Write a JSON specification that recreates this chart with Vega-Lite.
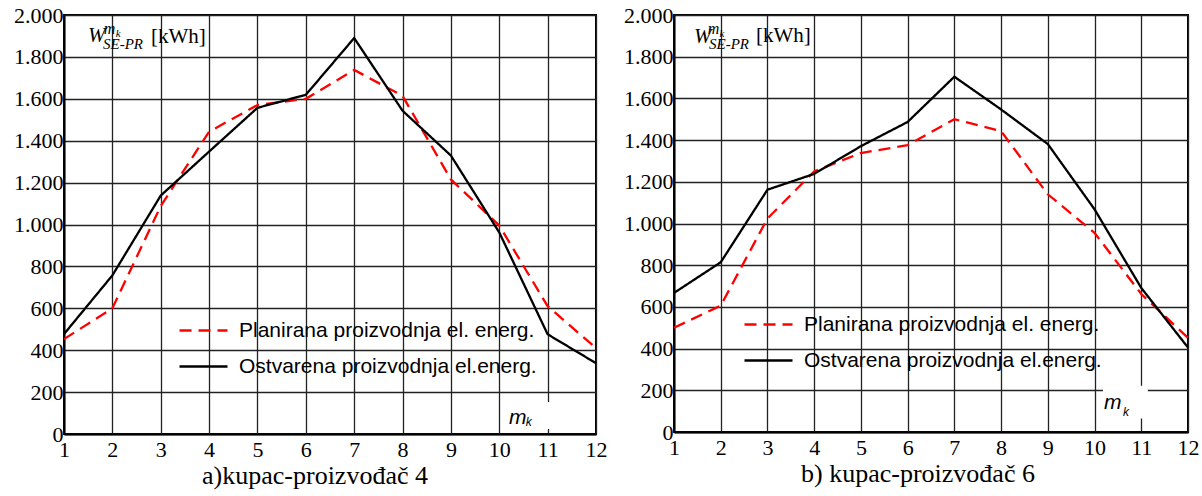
{
  "$schema": "https://vega.github.io/schema/vega-lite/v6.json",
  "padding": {"left": 12, "top": 3, "right": 5, "bottom": 2},
  "bounds": "flush",
  "spacing": 78,
  "config": {
    "locale": {"number": {"decimal": ",", "thousands": ".", "grouping": [3], "currency": ["", ""]}},
    "view": {"stroke": "#000000", "strokeWidth": 2},
    "axis": {"domainColor": "#000000", "domainWidth": 2, "gridColor": "#222222", "gridWidth": 1.3, "gridOpacity": 1, "ticks": false, "labelFont": "Liberation Serif", "labelFontSize": 22, "labelColor": "#000000", "title": null},
    "title": {"font": "Liberation Serif", "fontSize": 26, "fontWeight": "normal", "color": "#000000", "orient": "bottom", "offset": 3, "anchor": "middle"},
    "legend": {"orient": "none", "symbolType": "stroke", "symbolSize": 2304, "symbolStrokeWidth": 2.5, "labelFont": "Liberation Sans", "labelFontSize": 21, "labelColor": "#000000", "labelOffset": 10, "rowPadding": -14, "padding": 0, "labelLimit": 0}
  },
  "datasets": {
    "d": [
      {"panel": "a", "series": "Planirana proizvodnja el. energ.", "m": 1, "v": 453},
      {"panel": "a", "series": "Planirana proizvodnja el. energ.", "m": 2, "v": 600},
      {"panel": "a", "series": "Planirana proizvodnja el. energ.", "m": 3, "v": 1088},
      {"panel": "a", "series": "Planirana proizvodnja el. energ.", "m": 4, "v": 1443},
      {"panel": "a", "series": "Planirana proizvodnja el. energ.", "m": 5, "v": 1570},
      {"panel": "a", "series": "Planirana proizvodnja el. energ.", "m": 6, "v": 1600},
      {"panel": "a", "series": "Planirana proizvodnja el. energ.", "m": 7, "v": 1738},
      {"panel": "a", "series": "Planirana proizvodnja el. energ.", "m": 8, "v": 1614},
      {"panel": "a", "series": "Planirana proizvodnja el. energ.", "m": 9, "v": 1215},
      {"panel": "a", "series": "Planirana proizvodnja el. energ.", "m": 10, "v": 995},
      {"panel": "a", "series": "Planirana proizvodnja el. energ.", "m": 11, "v": 610},
      {"panel": "a", "series": "Planirana proizvodnja el. energ.", "m": 12, "v": 410},
      {"panel": "a", "series": "Ostvarena proizvodnja el.energ.", "m": 1, "v": 477},
      {"panel": "a", "series": "Ostvarena proizvodnja el.energ.", "m": 2, "v": 757},
      {"panel": "a", "series": "Ostvarena proizvodnja el.energ.", "m": 3, "v": 1138},
      {"panel": "a", "series": "Ostvarena proizvodnja el.energ.", "m": 4, "v": 1348},
      {"panel": "a", "series": "Ostvarena proizvodnja el.energ.", "m": 5, "v": 1557},
      {"panel": "a", "series": "Ostvarena proizvodnja el.energ.", "m": 6, "v": 1619},
      {"panel": "a", "series": "Ostvarena proizvodnja el.energ.", "m": 7, "v": 1890},
      {"panel": "a", "series": "Ostvarena proizvodnja el.energ.", "m": 8, "v": 1543},
      {"panel": "a", "series": "Ostvarena proizvodnja el.energ.", "m": 9, "v": 1329},
      {"panel": "a", "series": "Ostvarena proizvodnja el.energ.", "m": 10, "v": 962},
      {"panel": "a", "series": "Ostvarena proizvodnja el.energ.", "m": 11, "v": 476},
      {"panel": "a", "series": "Ostvarena proizvodnja el.energ.", "m": 12, "v": 338},
      {"panel": "b", "series": "Planirana proizvodnja el. energ.", "m": 1, "v": 500},
      {"panel": "b", "series": "Planirana proizvodnja el. energ.", "m": 2, "v": 606},
      {"panel": "b", "series": "Planirana proizvodnja el. energ.", "m": 3, "v": 1024},
      {"panel": "b", "series": "Planirana proizvodnja el. energ.", "m": 4, "v": 1250},
      {"panel": "b", "series": "Planirana proizvodnja el. energ.", "m": 5, "v": 1338},
      {"panel": "b", "series": "Planirana proizvodnja el. energ.", "m": 6, "v": 1376},
      {"panel": "b", "series": "Planirana proizvodnja el. energ.", "m": 7, "v": 1500},
      {"panel": "b", "series": "Planirana proizvodnja el. energ.", "m": 8, "v": 1443},
      {"panel": "b", "series": "Planirana proizvodnja el. energ.", "m": 9, "v": 1140},
      {"panel": "b", "series": "Planirana proizvodnja el. energ.", "m": 10, "v": 955},
      {"panel": "b", "series": "Planirana proizvodnja el. energ.", "m": 11, "v": 662},
      {"panel": "b", "series": "Planirana proizvodnja el. energ.", "m": 12, "v": 451},
      {"panel": "b", "series": "Ostvarena proizvodnja el.energ.", "m": 1, "v": 667},
      {"panel": "b", "series": "Ostvarena proizvodnja el.energ.", "m": 2, "v": 814},
      {"panel": "b", "series": "Ostvarena proizvodnja el.energ.", "m": 3, "v": 1162},
      {"panel": "b", "series": "Ostvarena proizvodnja el.energ.", "m": 4, "v": 1238},
      {"panel": "b", "series": "Ostvarena proizvodnja el.energ.", "m": 5, "v": 1371},
      {"panel": "b", "series": "Ostvarena proizvodnja el.energ.", "m": 6, "v": 1487},
      {"panel": "b", "series": "Ostvarena proizvodnja el.energ.", "m": 7, "v": 1704},
      {"panel": "b", "series": "Ostvarena proizvodnja el.energ.", "m": 8, "v": 1547},
      {"panel": "b", "series": "Ostvarena proizvodnja el.energ.", "m": 9, "v": 1381},
      {"panel": "b", "series": "Ostvarena proizvodnja el.energ.", "m": 10, "v": 1068},
      {"panel": "b", "series": "Ostvarena proizvodnja el.energ.", "m": 11, "v": 691},
      {"panel": "b", "series": "Ostvarena proizvodnja el.energ.", "m": 12, "v": 405}
    ]
  },
  "resolve": {"scale": {"color": "independent", "strokeDash": "independent"}, "legend": {"color": "independent", "strokeDash": "independent"}},
  "hconcat": [
    {
      "width": 532,
      "height": 419,
      "title": {"text": "a)kupac-proizvođač 4", "dx": -15},
      "layer": [
        {
          "data": {"values": [{}]},
          "mark": {"type": "rect", "fill": "#ffffff", "stroke": null},
          "encoding": {"x": {"datum": 10.14, "type": "quantitative"}, "x2": {"datum": 11.07}, "y": {"datum": 24, "type": "quantitative"}, "y2": {"datum": 153}}
        },
        {
          "data": {"name": "d"},
          "transform": [{"filter": "datum.panel === 'a'"}],
          "mark": {"type": "line", "strokeWidth": 2.3},
          "encoding": {
            "x": {"field": "m", "type": "quantitative", "scale": {"domain": [1, 12], "nice": false, "zero": false}, "axis": {"values": [1,2,3,4,5,6,7,8,9,10,11,12], "grid": true, "labelPadding": 5, "labelFlush": false}},
            "y": {"field": "v", "type": "quantitative", "scale": {"domain": [0, 2000], "nice": false}, "axis": {"values": [0,200,400,600,800,1000,1200,1400,1600,1800,2000], "grid": true, "format": ",d", "labelPadding": 1, "labelFlush": false}},
            "color": {"field": "series", "type": "nominal", "title": null, "scale": {"domain": ["Planirana proizvodnja el. energ.", "Ostvarena proizvodnja el.energ."], "range": ["#ff0000", "#000000"]}, "legend": {"legendX": 114, "legendY": 290, "rowPadding": -17}},
            "strokeDash": {"field": "series", "type": "nominal", "title": null, "scale": {"domain": ["Planirana proizvodnja el. energ.", "Ostvarena proizvodnja el.energ."], "range": [[12, 7], [1, 0]]}, "legend": {"legendX": 114, "legendY": 290, "rowPadding": -17}}
          }
        },
        {"data": {"values": [{}]}, "mark": {"type": "text", "font": "Liberation Serif", "fontStyle": "italic", "fontSize": 21, "align": "left", "baseline": "alphabetic", "color": "#000000"}, "encoding": {"x": {"datum": 1.496, "type": "quantitative"}, "y": {"datum": 1871, "type": "quantitative"}, "text": {"value": "W"}}},
        {"data": {"values": [{}]}, "mark": {"type": "text", "font": "Liberation Serif", "fontStyle": "italic", "fontSize": 16, "align": "left", "baseline": "alphabetic", "color": "#000000"}, "encoding": {"x": {"datum": 1.82, "type": "quantitative"}, "y": {"datum": 1909, "type": "quantitative"}, "text": {"value": "m"}}},
        {"data": {"values": [{}]}, "mark": {"type": "text", "font": "Liberation Serif", "fontStyle": "italic", "fontSize": 11, "align": "left", "baseline": "alphabetic", "color": "#000000"}, "encoding": {"x": {"datum": 2.07, "type": "quantitative"}, "y": {"datum": 1895, "type": "quantitative"}, "text": {"value": "k"}}},
        {"data": {"values": [{}]}, "mark": {"type": "text", "font": "Liberation Serif", "fontStyle": "italic", "fontSize": 15, "align": "left", "baseline": "alphabetic", "color": "#000000"}, "encoding": {"x": {"datum": 1.806, "type": "quantitative"}, "y": {"datum": 1836, "type": "quantitative"}, "text": {"value": "SE-PR"}}},
        {"data": {"values": [{}]}, "mark": {"type": "text", "font": "Liberation Serif", "fontSize": 21, "align": "left", "baseline": "alphabetic", "color": "#000000"}, "encoding": {"x": {"datum": 2.799, "type": "quantitative"}, "y": {"datum": 1866, "type": "quantitative"}, "text": {"value": "[kWh]"}}},
        {"data": {"values": [{}]}, "mark": {"type": "text", "font": "Liberation Sans", "fontStyle": "italic", "fontSize": 21, "align": "left", "baseline": "alphabetic", "color": "#000000"}, "encoding": {"x": {"datum": 10.2, "type": "quantitative"}, "y": {"datum": 48, "type": "quantitative"}, "text": {"value": "m"}}},
        {"data": {"values": [{}]}, "mark": {"type": "text", "font": "Liberation Sans", "fontStyle": "italic", "fontSize": 12, "align": "left", "baseline": "alphabetic", "color": "#000000"}, "encoding": {"x": {"datum": 10.55, "type": "quantitative"}, "y": {"datum": 38, "type": "quantitative"}, "text": {"value": "k"}}}
      ]
    },
    {
      "width": 514,
      "height": 417,
      "title": {"text": "b) kupac-proizvođač 6", "dx": -13},
      "layer": [
        {
          "data": {"values": [{}]},
          "mark": {"type": "rect", "fill": "#ffffff", "stroke": null},
          "encoding": {"x": {"datum": 10.18, "type": "quantitative"}, "x2": {"datum": 11.14}, "y": {"datum": 65, "type": "quantitative"}, "y2": {"datum": 222}}
        },
        {
          "data": {"name": "d"},
          "transform": [{"filter": "datum.panel === 'b'"}],
          "mark": {"type": "line", "strokeWidth": 2.3},
          "encoding": {
            "x": {"field": "m", "type": "quantitative", "scale": {"domain": [1, 12], "nice": false, "zero": false}, "axis": {"values": [1,2,3,4,5,6,7,8,9,10,11,12], "grid": true, "labelPadding": 5, "labelFlush": false}},
            "y": {"field": "v", "type": "quantitative", "scale": {"domain": [0, 2000], "nice": false}, "axis": {"values": [0,200,400,600,800,1000,1200,1400,1600,1800,2000], "grid": true, "format": ",d", "labelPadding": 1, "labelFlush": false}},
            "color": {"field": "series", "type": "nominal", "title": null, "scale": {"domain": ["Planirana proizvodnja el. energ.", "Ostvarena proizvodnja el.energ."], "range": ["#ff0000", "#000000"]}, "legend": {"legendX": 69, "legendY": 284, "rowPadding": -11}},
            "strokeDash": {"field": "series", "type": "nominal", "title": null, "scale": {"domain": ["Planirana proizvodnja el. energ.", "Ostvarena proizvodnja el.energ."], "range": [[12, 7], [1, 0]]}, "legend": {"legendX": 69, "legendY": 284, "rowPadding": -11}}
          }
        },
        {"data": {"values": [{}]}, "mark": {"type": "text", "font": "Liberation Serif", "fontStyle": "italic", "fontSize": 21, "align": "left", "baseline": "alphabetic", "color": "#000000"}, "encoding": {"x": {"datum": 1.428, "type": "quantitative"}, "y": {"datum": 1868, "type": "quantitative"}, "text": {"value": "W"}}},
        {"data": {"values": [{}]}, "mark": {"type": "text", "font": "Liberation Serif", "fontStyle": "italic", "fontSize": 16, "align": "left", "baseline": "alphabetic", "color": "#000000"}, "encoding": {"x": {"datum": 1.72, "type": "quantitative"}, "y": {"datum": 1909, "type": "quantitative"}, "text": {"value": "m"}}},
        {"data": {"values": [{}]}, "mark": {"type": "text", "font": "Liberation Serif", "fontStyle": "italic", "fontSize": 11, "align": "left", "baseline": "alphabetic", "color": "#000000"}, "encoding": {"x": {"datum": 1.975, "type": "quantitative"}, "y": {"datum": 1894, "type": "quantitative"}, "text": {"value": "k"}}},
        {"data": {"values": [{}]}, "mark": {"type": "text", "font": "Liberation Serif", "fontStyle": "italic", "fontSize": 15, "align": "left", "baseline": "alphabetic", "color": "#000000"}, "encoding": {"x": {"datum": 1.749, "type": "quantitative"}, "y": {"datum": 1835, "type": "quantitative"}, "text": {"value": "SE-PR"}}},
        {"data": {"values": [{}]}, "mark": {"type": "text", "font": "Liberation Serif", "fontSize": 21, "align": "left", "baseline": "alphabetic", "color": "#000000"}, "encoding": {"x": {"datum": 2.755, "type": "quantitative"}, "y": {"datum": 1870, "type": "quantitative"}, "text": {"value": "[kWh]"}}},
        {"data": {"values": [{}]}, "mark": {"type": "text", "font": "Liberation Sans", "fontStyle": "italic", "fontSize": 21, "align": "left", "baseline": "alphabetic", "color": "#000000"}, "encoding": {"x": {"datum": 10.2, "type": "quantitative"}, "y": {"datum": 110, "type": "quantitative"}, "text": {"value": "m"}}},
        {"data": {"values": [{}]}, "mark": {"type": "text", "font": "Liberation Sans", "fontStyle": "italic", "fontSize": 12, "align": "left", "baseline": "alphabetic", "color": "#000000"}, "encoding": {"x": {"datum": 10.61, "type": "quantitative"}, "y": {"datum": 77, "type": "quantitative"}, "text": {"value": "k"}}}
      ]
    }
  ]
}
